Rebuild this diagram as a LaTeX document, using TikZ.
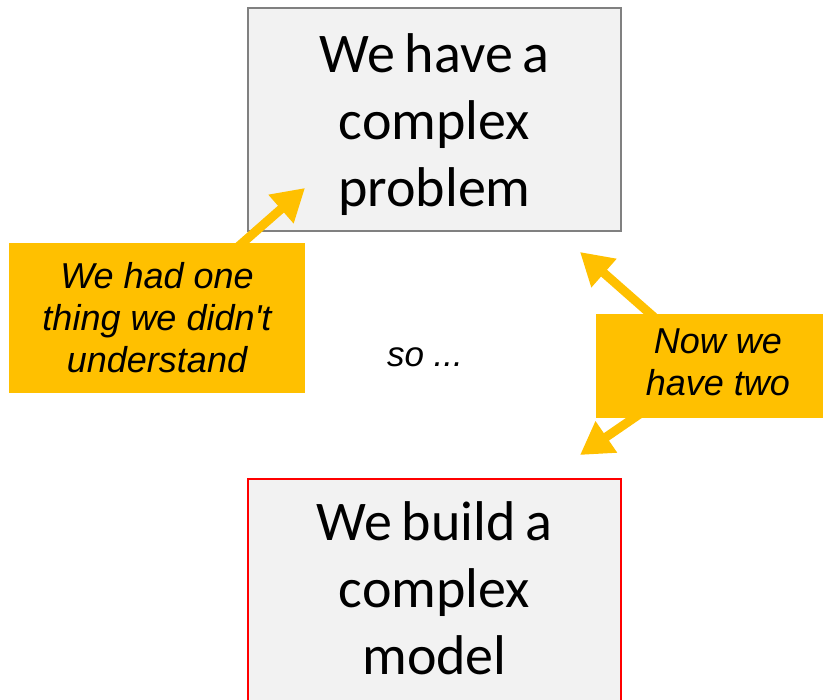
\documentclass[tikz,border=0pt]{standalone}
\usepackage{fontspec}
\setmainfont{Carlito}
\newfontfamily\boxfont[WordSpace=0.75]{Carlito}
\newfontfamily\notefont{Liberation Sans}
\usetikzlibrary{arrows.meta, positioning, backgrounds}
\definecolor{cNote}{HTML}{FFC000}
\definecolor{cBox}{HTML}{F2F2F2}
\definecolor{cEdge}{HTML}{808080}
\definecolor{cRed}{HTML}{FF0000}
\pgfdeclarelayer{mid}
\pgfsetlayers{background,mid,main}
\newcommand\boxlines[2][0pt]{\raisebox{-#1}[\height][\depth]{\begin{tabular}{@{}c@{}}#2\end{tabular}}}

\begin{document}
\begin{tikzpicture}[
  x=1pt, y=-1pt,
  box/.style={draw, line width=1.5pt, fill=cBox, inner sep=0pt,
    minimum width=373pt, minimum height=223pt,
    font=\boxfont\fontsize{56}{67}\selectfont},
  prob/.style={box, draw=cEdge},
  model/.style={box, draw=cRed},
  note/.style={fill=cNote, align=center, inner sep=0pt,
    font=\notefont\itshape\fontsize{36}{42}\selectfont},
  flow/.style={-{Triangle[length=32pt, width=36pt]}, line width=9pt, draw=cNote},
]
\useasboundingbox (0,0) rectangle (823,700);

% the two boxes, under the arrows
\begin{scope}[on background layer]
  \node[prob] (prob) at (434.5,119.5) {\boxlines[7pt]{We have a\\complex\\problem}};
  \node[model] (model) at (434.5,590.5) {\boxlines[4pt]{We build a\\complex\\model}};
\end{scope}

% callouts
\node[note, minimum width=296pt, minimum height=150pt] (one) at (157,318)
  {We had one\\thing we didn't\\understand};
\node[note, minimum width=227pt, minimum height=104pt, align=left] (two) at (709.5,366)
  {\hspace*{17pt}\begin{tabular}{@{}c@{}}Now we\\have two\end{tabular}};
\node[font=\notefont\itshape\fontsize{35}{42}\selectfont] (so) at (425,357) {so ...};

% arrow tips
\coordinate (oneTip) at (305,188);
\coordinate (twoTipA) at (580,252);
\coordinate (twoTipB) at (580,455);

\begin{pgfonlayer}{mid}
  \draw[flow] (one.center) -- (oneTip);
  \draw[flow] (two.center) -- (twoTipA);
  \draw[flow] (two.center) -- (twoTipB);
\end{pgfonlayer}

\end{tikzpicture}
\end{document}
